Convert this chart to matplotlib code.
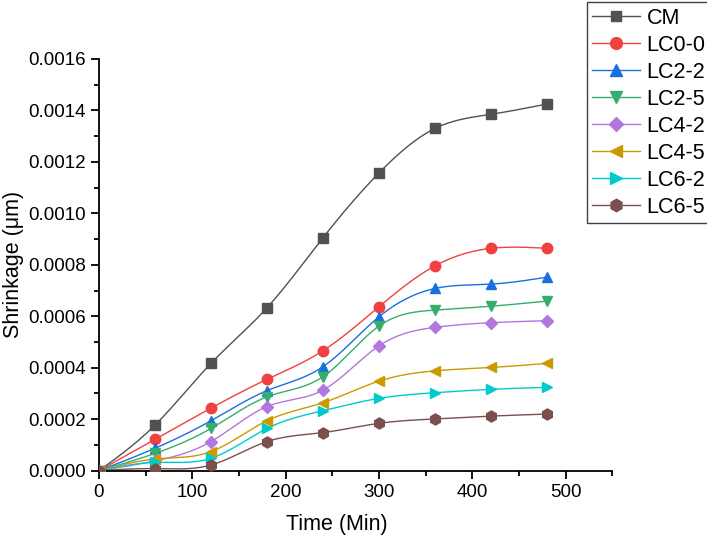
import numpy as np
import matplotlib.pyplot as plt
from matplotlib.ticker import MultipleLocator, FormatStrFormatter

plt.rcParams['font.family'] = ['Liberation Sans', 'DejaVu Sans']

time = [0, 60, 120, 180, 240, 300, 360, 420, 480]

cm = [0, 0.000177, 0.000417, 0.000633, 0.000905, 0.001157, 0.001330, 0.001385, 0.001425]
lc0_0 = [0, 0.000122, 0.000243, 0.000355, 0.000466, 0.000637, 0.000796, 0.000864, 0.000864]
lc2_2 = [0, 0.000087, 0.000194, 0.000311, 0.000404, 0.000598, 0.000708, 0.000725, 0.000752]
lc2_5 = [0, 0.000067, 0.000164, 0.000287, 0.000365, 0.000562, 0.000624, 0.000639, 0.000659]
lc4_2 = [0, 0.000038, 0.000113, 0.000249, 0.000313, 0.000485, 0.000557, 0.000575, 0.000583]
lc4_5 = [0, 0.000045, 0.000074, 0.000194, 0.000264, 0.000348, 0.000388, 0.000401, 0.000417]
lc6_2 = [0, 0.000032, 0.000048, 0.000164, 0.000233, 0.000281, 0.000303, 0.000316, 0.000324]
lc6_5 = [0, 0.000008, 0.000022, 0.000113, 0.000148, 0.000184, 0.000201, 0.000212, 0.000220]

labels = ['CM', 'LC0-0', 'LC2-2', 'LC2-5', 'LC4-2', 'LC4-5', 'LC6-2', 'LC6-5']
series = [cm, lc0_0, lc2_2, lc2_5, lc4_2, lc4_5, lc6_2, lc6_5]
colors = ['#515151', '#F14040', '#1A6FDF', '#37AD6B', '#B177DE', '#CC9900', '#00CBCC', '#7D4E4E']
markers = ['s', 'o', '^', 'v', 'D', '<', '>', 'h']
msizes = [6.5, 7.5, 7.5, 7.5, 6.5, 7.5, 7.5, 8]


def spline(x, y, n=300):
    # natural cubic spline, like Origin's spline connector
    x = np.asarray(x, float)
    y = np.asarray(y, float)
    h = np.diff(x)
    m = len(x)
    A = np.zeros((m, m))
    b = np.zeros(m)
    A[0, 0] = A[-1, -1] = 1
    for i in range(1, m - 1):
        A[i, i - 1] = h[i - 1]
        A[i, i] = 2 * (h[i - 1] + h[i])
        A[i, i + 1] = h[i]
        b[i] = 6 * ((y[i + 1] - y[i]) / h[i] - (y[i] - y[i - 1]) / h[i - 1])
    M = np.linalg.solve(A, b)
    xs = np.linspace(x[0], x[-1], n)
    idx = np.clip(np.searchsorted(x, xs) - 1, 0, m - 2)
    x0, x1 = x[idx], x[idx + 1]
    hh = x1 - x0
    t0, t1 = x1 - xs, xs - x0
    ys = (M[idx] * t0**3 + M[idx + 1] * t1**3) / (6 * hh) \
        + (y[idx] / hh - M[idx] * hh / 6) * t0 \
        + (y[idx + 1] / hh - M[idx + 1] * hh / 6) * t1
    return xs, ys


fig = plt.figure(figsize=(7.07, 5.41), dpi=100)
ax = fig.add_axes([0.140, 0.130, 0.726, 0.761])

for y, lab, c, mk, ms in zip(series, labels, colors, markers, msizes):
    xs, ys = spline(time, y)
    ax.plot(xs, ys, color=c, lw=1.0, zorder=2)
    ax.plot(time, y, linestyle='none', marker=mk, color=c, ms=ms, zorder=3)
    ax.plot([], [], color=c, lw=1.0, marker=mk, ms=ms + 1, label=lab)

ax.set_xlim(0, 550)
ax.set_ylim(0, 0.0016)
ax.xaxis.set_major_locator(MultipleLocator(100))
ax.xaxis.set_minor_locator(MultipleLocator(50))
ax.yaxis.set_major_locator(MultipleLocator(0.0002))
ax.yaxis.set_minor_locator(MultipleLocator(0.0001))
ax.yaxis.set_major_formatter(FormatStrFormatter('%.4f'))

for s in ['top', 'right']:
    ax.spines[s].set_visible(False)
for s in ['left', 'bottom']:
    ax.spines[s].set_linewidth(1.3)

ax.tick_params(which='major', direction='out', length=6, width=1.3, labelsize=13.5)
ax.tick_params(which='minor', direction='out', length=3.5, width=1.3)

ax.set_xlabel('Time (Min)', fontsize=15.5)
ax.xaxis.set_label_coords(0.464, -0.105)
ax.set_ylabel('Shrinkage (\u03bcm)', fontsize=15.5, labelpad=3)

fig.legend(loc='upper left', bbox_to_anchor=(0.830, 0.996), fontsize=15.5,
           frameon=True, fancybox=False, edgecolor='#404040', framealpha=1,
           handlelength=2.2, labelspacing=0.28, handletextpad=0.33,
           borderpad=0.25, borderaxespad=0)

fig.savefig('out.png', dpi=100)
